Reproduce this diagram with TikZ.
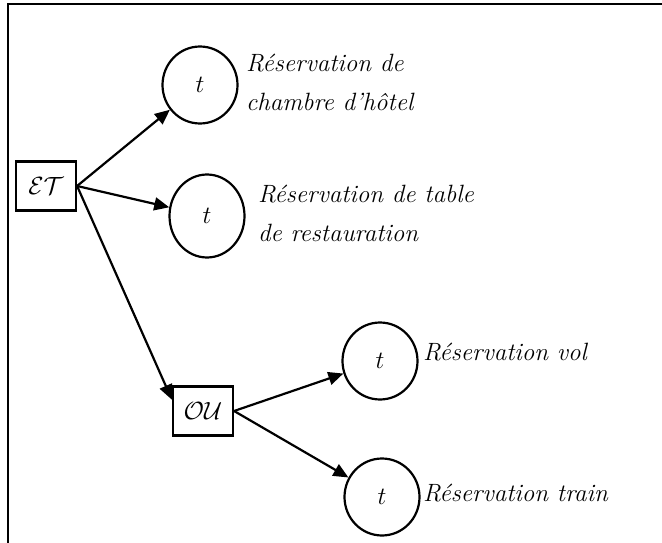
\documentclass[tikz,border=0pt]{standalone}
\usepackage{amsmath,amssymb}
\usepackage{tikz}
\usetikzlibrary{arrows.meta,shapes.geometric,positioning}

\begin{document}
\begin{tikzpicture}[x=1pt,y=-1pt,line width=2.2pt,
	font=\fontsize{25}{39}\selectfont\itshape,
	place/.style={ellipse,draw,minimum width=75pt,minimum height=77pt,inner sep=0pt},
	gate/.style={rectangle,draw,minimum width=60pt,minimum height=49pt,inner sep=0pt},
	lbl/.style={anchor=west,align=left,inner sep=0pt},
	arc/.style={-{Triangle[length=15pt,width=13pt]}}] 
	\useasboundingbox (0,0) rectangle (662,543);
	% cadre
	\draw (8,543) -- (8,4) -- (662,4);
	\node[gate] (et) at (46,186) {$\mathcal{ET}$};
	\node[gate] (ou) at (203,411) {$\mathcal{OU}$};
	\node[place] (t1) at (200,85) {$t$};
	\node[place,minimum height=83pt] (t2) at (207,216) {$t$};
	\node[place] (t3) at (380,361) {$t$};
	\node[place] (t4) at (382,497) {$t$};
	\node[lbl] (l1) at (245,82) {Réservation de\\chambre d'hôtel};
	\node[lbl] (l2) at (257,213) {Réservation de table\\de restauration};
	\node[lbl] (l3) at (422,352) {Réservation vol};
	\node[lbl] (l4) at (422,493) {Réservation train};
	\path[arc]
	(et.east) edge (t1)
	(et.east) edge (t2)
	(et.east) edge (ou.160)
	(ou.east) edge (t3)
	(ou.east) edge (t4);
\end{tikzpicture}
\end{document}
